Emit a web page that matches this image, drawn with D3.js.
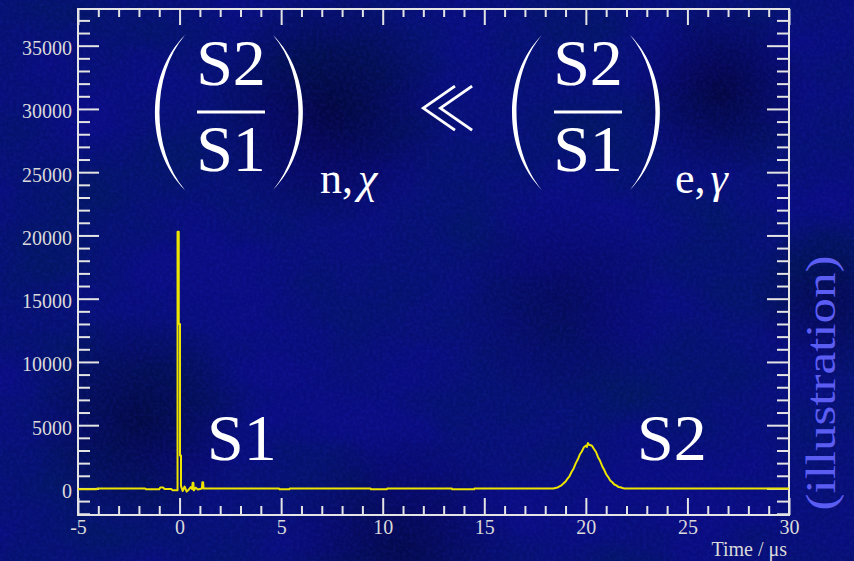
<!DOCTYPE html>
<html>
<head>
<meta charset="utf-8">
<script src="https://cdn.jsdelivr.net/npm/d3@7"></script>
<style>
  html, body { margin: 0; padding: 0; background: #0a0c7c; overflow: hidden; }
  svg { display: block; }
  svg text { font-family: "Liberation Serif", "Times New Roman", serif; }
</style>
</head>
<body>
<div id="chart"></div>
<script>
// Waveform: time in microseconds, amplitude in ADC counts
const timeUs = [
  -5.0, -4.1, -4.05, -1.7, -1.65, -1.0, -0.95, -0.8, -0.75, -0.4, -0.35, -0.1,
  -0.1, -0.04, -0.04, 0.02, 0.02, 0.07, 0.07, 0.15, 0.25, 0.35, 0.45, 0.55, 0.62,
  0.64, 0.68, 0.7, 0.8, 0.9, 1.1, 1.12, 1.16, 1.18, 4.9, 4.92, 5.4, 5.42, 9.4, 9.42,
  10.2, 10.22, 13.4, 13.42, 14.5, 14.52,
  18.4, 18.5, 18.6, 18.7, 18.8, 18.9, 19.0, 19.1, 19.2, 19.3, 19.4, 19.5, 19.6,
  19.7, 19.8, 19.9, 20.0, 20.05, 20.1, 20.15, 20.2, 20.3, 20.4, 20.5, 20.6, 20.7,
  20.8, 20.9, 21.0, 21.1, 21.2, 21.3, 21.4, 21.5, 21.6, 21.7, 21.8, 21.9, 30.0
];
const amplitude = [
  -70, -70, 0, 0, -70, -70, 70, 70, -50, -50, -140, -140,
  20300, 20300, 13000, 13000, 2600, 2600, 200, -200, 150, -250, -100, 100, -50,
  450, 450, -150, 60, -80, 0, 480, 480, 0, 0, -70, -70, 0, 0, -60,
  -60, 0, 0, -70, -70, 0,
  0, 40, 70, 160, 250, 400, 540, 780, 980, 1320, 1580, 1980, 2280,
  2680, 2920, 3250, 3380, 3280, 3600, 3450, 3430, 3380, 3120, 2880, 2470, 2180,
  1780, 1480, 1120, 900, 630, 490, 310, 240, 120, 90, 30, 0, 0
];

const xDomain = [-5, 30];
const yDomain = [-2100, 37900];
const xMajor = [-5, 0, 5, 10, 15, 20, 25, 30];
const yMajor = [0, 5000, 10000, 15000, 20000, 25000, 30000, 35000];
const xMinorStep = 1;
const yMinorStep = 1000;
const xTitle = 'Time / \u03bcs';
const sideNote = '(illustration)';

const width = 854, height = 561;
const plot = { left: 78, right: 789, top: 9, bottom: 515 };

const svg = d3.select('#chart').append('svg')
  .attr('width', width)
  .attr('height', height);

const defs = svg.append('defs');

// Background texture
const cloud = defs.append('filter').attr('id', 'cloud')
  .attr('x', 0).attr('y', 0).attr('width', '100%').attr('height', '100%');
cloud.append('feTurbulence')
  .attr('type', 'fractalNoise').attr('baseFrequency', '0.006 0.009')
  .attr('numOctaves', 4).attr('seed', 7);
cloud.append('feColorMatrix').attr('type', 'matrix')
  .attr('values', '0 0 0 0 0  0 0 0 0 0.01  0 0 0 0 0.1  1.8 0 0 0 -0.6');

const grain = defs.append('filter').attr('id', 'grain')
  .attr('x', 0).attr('y', 0).attr('width', '100%').attr('height', '100%');
grain.append('feTurbulence')
  .attr('type', 'fractalNoise').attr('baseFrequency', '0.3')
  .attr('numOctaves', 2).attr('seed', 3);
grain.append('feColorMatrix').attr('type', 'matrix')
  .attr('values', '0 0 0 0 0.02  0 0 0 0 0.04  0 0 0 0 0.7  1 0 0 0 -0.35');

const blobs = [
  { x: 330, y: 110, r: 120, o: 0.6 },
  { x: 720, y: 90, r: 90, o: 0.6 },
  { x: 140, y: 420, r: 110, o: 0.5 },
  { x: 400, y: 545, r: 120, o: 0.45 },
  { x: 830, y: 300, r: 80, o: 0.4 },
  { x: 560, y: 300, r: 110, o: 0.3 }
];
const blobGrad = defs.append('radialGradient').attr('id', 'blob');
blobGrad.append('stop').attr('offset', '0%').attr('stop-color', '#01011e').attr('stop-opacity', 1);
blobGrad.append('stop').attr('offset', '100%').attr('stop-color', '#01011e').attr('stop-opacity', 0);

svg.append('rect').attr('width', width).attr('height', height).attr('fill', '#0a0c80');
svg.append('rect').attr('width', width).attr('height', height)
  .attr('filter', 'url(#cloud)').attr('opacity', 0.9);
svg.selectAll('.blob').data(blobs).enter().append('circle')
  .attr('class', 'blob')
  .attr('cx', d => d.x).attr('cy', d => d.y).attr('r', d => d.r)
  .attr('fill', 'url(#blob)').attr('opacity', d => d.o);
svg.append('rect').attr('width', width).attr('height', height)
  .attr('filter', 'url(#grain)').attr('opacity', 0.3);

// Scales
const x = d3.scaleLinear().domain(xDomain).range([plot.left, plot.right]);
const y = d3.scaleLinear().domain(yDomain).range([plot.bottom, plot.top]);

const xMinor = d3.range(xDomain[0], xDomain[1] + 0.001, xMinorStep).filter(v => !xMajor.includes(v));
const yMinor = d3.range(-2000, yDomain[1], yMinorStep).filter(v => !yMajor.includes(v));

const axisColor = '#e4e4e4';
const serif = '"Liberation Serif", "Times New Roman", serif';

function styleAxis(g) {
  g.select('.domain').remove();
  g.selectAll('.tick line').attr('stroke', axisColor).attr('stroke-width', 2);
  g.selectAll('.tick text')
    .attr('fill', '#dadada')
    .style('font-family', serif)
    .style('font-size', '20px');
}

// Left axis with labels, ticks pointing inwards
svg.append('g').attr('transform', `translate(${plot.left},0)`)
  .call(d3.axisLeft(y).tickValues(yMajor).tickSize(-21).tickPadding(6).tickFormat(d => String(d)))
  .call(styleAxis)
  .selectAll('.tick text').attr('dy', '0.45em');
svg.append('g').attr('transform', `translate(${plot.left},0)`)
  .call(d3.axisLeft(y).tickValues(yMinor).tickSize(-12).tickFormat(''))
  .call(styleAxis);

// Right axis
svg.append('g').attr('transform', `translate(${plot.right},0)`)
  .call(d3.axisRight(y).tickValues(yMajor).tickSize(-22).tickFormat(''))
  .call(styleAxis);
svg.append('g').attr('transform', `translate(${plot.right},0)`)
  .call(d3.axisRight(y).tickValues(yMinor).tickSize(-12).tickFormat(''))
  .call(styleAxis);

// Bottom axis with labels
svg.append('g').attr('transform', `translate(0,${plot.bottom})`)
  .call(d3.axisBottom(x).tickValues(xMajor).tickSize(-17).tickPadding(5).tickFormat(d => String(d)))
  .call(styleAxis);
svg.append('g').attr('transform', `translate(0,${plot.bottom})`)
  .call(d3.axisBottom(x).tickValues(xMinor).tickSize(-9).tickFormat(''))
  .call(styleAxis);

// Top axis
svg.append('g').attr('transform', `translate(0,${plot.top})`)
  .call(d3.axisTop(x).tickValues(xMajor).tickSize(-16).tickFormat(''))
  .call(styleAxis);
svg.append('g').attr('transform', `translate(0,${plot.top})`)
  .call(d3.axisTop(x).tickValues(xMinor).tickSize(-8).tickFormat(''))
  .call(styleAxis);

// Frame
svg.append('rect')
  .attr('x', plot.left).attr('y', plot.top)
  .attr('width', plot.right - plot.left).attr('height', plot.bottom - plot.top)
  .attr('fill', 'none').attr('stroke', axisColor).attr('stroke-width', 2);

// Axis title
svg.append('text')
  .attr('x', plot.right - 2).attr('y', 556)
  .attr('text-anchor', 'end')
  .attr('fill', '#dadada')
  .style('font-family', serif)
  .style('font-size', '20px')
  .text(xTitle);

// Waveform trace
const points = timeUs.map((t, i) => [t, amplitude[i]]);
const line = d3.line()
  .x(d => x(d[0]))
  .y(d => y(d[1]));

svg.append('path')
  .datum(points)
  .attr('d', line)
  .attr('fill', 'none')
  .attr('stroke', '#ece400')
  .attr('stroke-width', 2)
  .attr('stroke-linejoin', 'round');

// Formula (S2/S1)_{n,chi} << (S2/S1)_{e,gamma}
const white = '#ffffff';
const formula = svg.append('g').attr('class', 'formula').attr('fill', white);

function fraction(dx, sub, subX) {
  const g = formula.append('g').attr('transform', `translate(${dx},0)`);
  // large delimiters
  g.append('path')
    .attr('d', 'M185,35 C145,75 145,150 185,190 C151,150 151,75 185,35 Z')
    .attr('fill', white);
  g.append('path')
    .attr('d', 'M273,35 C313,75 313,150 273,190 C307,150 307,75 273,35 Z')
    .attr('fill', white);
  g.append('text').attr('x', 231).attr('y', 85)
    .attr('text-anchor', 'middle').style('font-family', serif).style('font-size', '66px').text('S2');
  g.append('rect').attr('x', 197).attr('y', 110.5).attr('width', 68).attr('height', 3);
  g.append('text').attr('x', 231).attr('y', 171)
    .attr('text-anchor', 'middle').style('font-family', serif).style('font-size', '66px').text('S1');
  const s = g.append('text').attr('x', subX).attr('y', 193)
    .style('font-family', serif).style('font-size', '44px');
  s.append('tspan').text(sub[0] + ',');
  s.append('tspan').attr('dx', 5).style('font-style', 'italic').text(sub[1]);
}

fraction(0, ['n', '\u03c7'], 320);
formula.append('text')
  .attr('x', 447).attr('y', 131)
  .attr('text-anchor', 'middle')
  .style('font-family', '"Noto Sans CJK JP", "DejaVu Sans", sans-serif')
  .style('font-weight', 300)
  .style('font-size', '60px')
  .text('\u226a');
fraction(357, ['e', '\u03b3'], 318);

// Peak labels
svg.append('text').attr('x', 207).attr('y', 460)
  .style('font-family', serif).style('font-size', '66px').attr('fill', white).text('S1');
svg.append('text').attr('x', 637).attr('y', 460)
  .style('font-family', serif).style('font-size', '66px').attr('fill', white).text('S2');

// Side note
svg.append('text')
  .attr('transform', 'translate(835,383) rotate(-90)')
  .attr('text-anchor', 'middle')
  .attr('textLength', 255)
  .attr('lengthAdjust', 'spacingAndGlyphs')
  .style('font-family', serif)
  .style('font-size', '42px')
  .attr('fill', '#5b5cf2')
  .text(sideNote);
</script>
</body>
</html>
